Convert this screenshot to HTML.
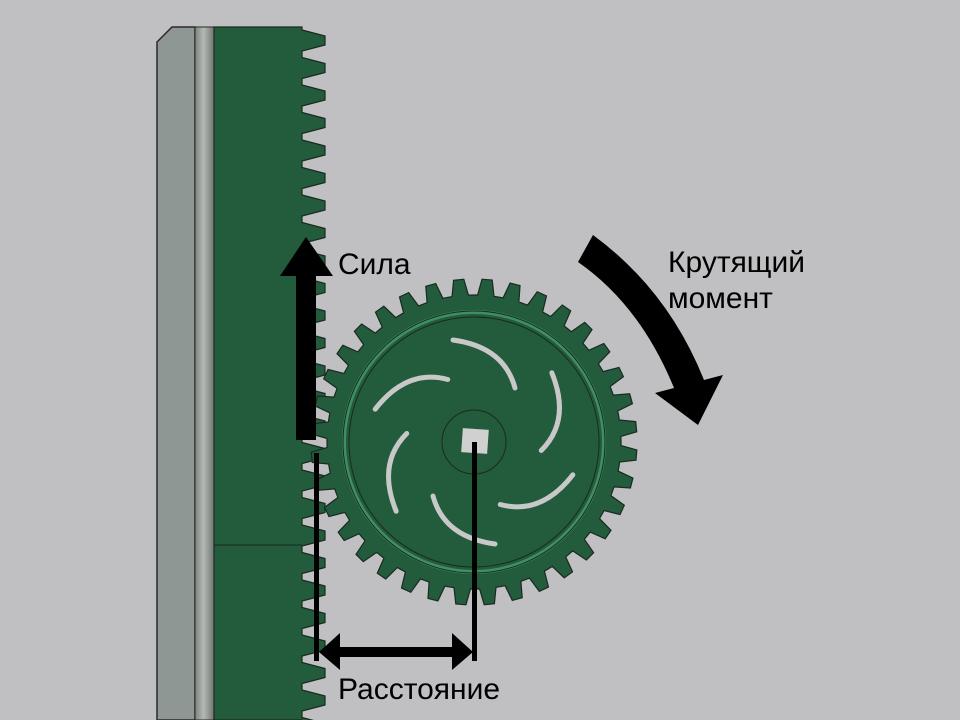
<!DOCTYPE html>
<html><head><meta charset="utf-8"><style>
html,body{margin:0;padding:0;background:#c0bfc1;}
svg{display:block}
text{font-family:"Liberation Sans","DejaVu Sans",sans-serif;fill:#000}
</style></head><body>
<svg id="s" width="960" height="720" viewBox="0 0 960 720" xmlns="http://www.w3.org/2000/svg">
<defs>
<linearGradient id="rod" x1="0" x2="1">
<stop offset="0" stop-color="#7d837f"/><stop offset="0.45" stop-color="#b4b9b5"/><stop offset="1" stop-color="#6f7571"/>
</linearGradient>
</defs>
<rect width="960" height="720" fill="#c0bfc1"/>
<polygon points="157,42 172,27 195,27 195,720 157,720" fill="#8f9794" stroke="#2a2a2a" stroke-width="1.5"/>
<rect x="195" y="27" width="19" height="693" fill="url(#rod)" stroke="#2a2a2a" stroke-width="1"/>
<g id="rack"></g>
<g id="gear"></g>
<polygon points="296,440 316,440 316,276 333,276 306,237 280,276 296,276" fill="#000"/>
<text x="338" y="274" font-size="30">Сила</text>
<path d="M593,235 Q668,290 704,380 L723,375 L698,425 L655,393 L674,388 Q640,305 578,262 Z" fill="#000"/>
<text x="668" y="272" font-size="30">Крутящий</text>
<text x="668" y="308" font-size="30">момент</text>
<rect x="314" y="453" width="5" height="208" fill="#000"/>
<rect x="472" y="442" width="5" height="219" fill="#000"/>
<polygon points="319,652 340,633 340,647 452,647 452,633 473,652 452,670 452,657 340,657 340,670" fill="#000"/>
<text x="338" y="699" font-size="30">Расстояние</text>
</svg>
<script>
(function(){
var NS="http://www.w3.org/2000/svg";
function el(t,a,p){var e=document.createElementNS(NS,t);for(var k in a)e.setAttribute(k,a[k]);p.appendChild(e);return e;}
var r=document.getElementById('rack');
var d="M214,27 L302,27 ";
var y=27;
while(y<720){d+="L302,"+(y+3)+" L325,"+(y+9)+" L325,"+(y+18)+" L302,"+(y+24)+" L302,"+(y+27.5)+" ";y+=27.5;}
d+="L302,720 L214,720 Z";
el('path',{d:d,fill:'#235b3d',stroke:'#1a2a20','stroke-width':1.2},r);
el('line',{x1:214,y1:545,x2:302,y2:545,stroke:'#1a2a20','stroke-width':1},r);
var g=document.getElementById('gear');
var cx=474,cy=442,N=36,Rr=147,Rt=163;
var p="";
for(var i=0;i<N;i++){
 var a0=i*2*Math.PI/N, st=2*Math.PI/N;
 var pts=[[Rr,a0],[Rr,a0+st*0.14],[Rt,a0+st*0.28],[Rt,a0+st*0.64],[Rr,a0+st*0.78]];
 pts.forEach(function(q,j){var x=cx+q[0]*Math.cos(q[1]),yy=cy+q[0]*Math.sin(q[1]);p+=(i==0&&j==0?"M":"L")+x.toFixed(1)+","+yy.toFixed(1)+" ";});
}
p+="Z";
el('path',{d:p,fill:'#235b3d',stroke:'#1a2a20','stroke-width':1.2},g);
el('circle',{cx:cx,cy:cy,r:130,fill:'none',stroke:'#3f8f63','stroke-width':4},g);
el('circle',{cx:cx,cy:cy,r:131,fill:'none',stroke:'#1a2a20','stroke-width':1},g);
el('circle',{cx:cx,cy:cy,r:125,fill:'none',stroke:'#1a2a20','stroke-width':1},g);
for(var k=0;k<6;k++){
 el('path',{d:"M-21,-102 Q30,-95 41,-54",fill:'none',stroke:'#c8c8c8','stroke-width':5,'stroke-linecap':'round',transform:"translate("+cx+","+cy+") rotate("+(k*60)+")"},g);
}
el('circle',{cx:cx,cy:cy,r:32,fill:'none',stroke:'#1a2a20','stroke-width':1},g);
el('rect',{x:462,y:429,width:26,height:24,fill:'#d0d0d0',transform:"rotate(4 475 441)"},g);
})();
</script>
</body></html>
